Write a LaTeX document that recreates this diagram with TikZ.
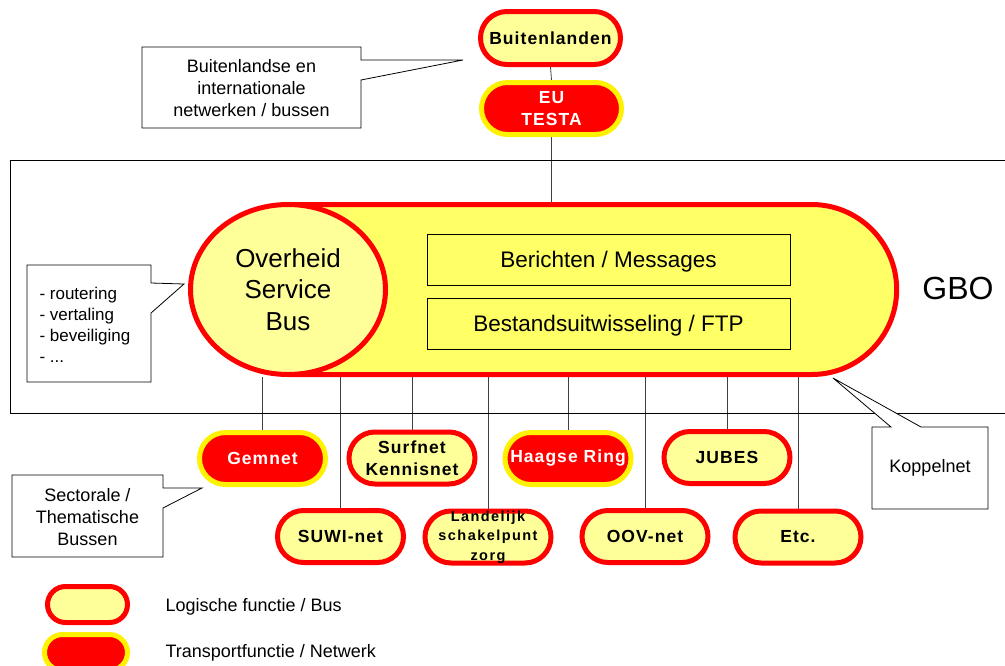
\documentclass[tikz,border=0pt]{standalone}
\usepackage{fontspec}
\setmainfont{Liberation Sans}
\newfontfamily\lblfont{Liberation Sans}[LetterSpace=6]
\newfontfamily\tightfont{Liberation Sans}[LetterSpace=10]
\usetikzlibrary{shapes.misc,shapes.geometric,backgrounds}
\definecolor{busyellow}{HTML}{FFFF66}
\definecolor{paleyellow}{HTML}{FFFF99}

\begin{document}
\begin{tikzpicture}[x=1pt, y=-1pt,
    every node/.style={font=\fontsize{18}{22}\selectfont},
    logic/.style={rounded rectangle, draw=red, fill=paleyellow, line width=5pt, minimum width=126pt, minimum height=52pt, inner sep=0pt, align=center, font=\lblfont\bfseries\fontsize{17.5}{21.5}\selectfont},
    transport/.style={logic, draw=yellow, fill=red, text=white},
    layer/.style={rectangle, draw=black, line width=0.8pt, minimum width=363pt, minimum height=51pt, text depth=0pt, font=\fontsize{22.5}{27}\selectfont},
    callout/.style={draw=black, fill=white, line width=0.8pt},
    conn/.style={draw=black!75, line width=0.8pt}
]
    \useasboundingbox (0,0) rectangle (1005,665);

    % GBO frame
    \draw[line width=0.8pt] (10,160) rectangle (1012,413);
    \node[font=\fontsize{32}{36}\selectfont] (gbo) at (958,288) {GBO};

    % Bus
    \node[rounded rectangle, rounded rectangle left arc=none, draw=red, fill=busyellow, line width=5pt, minimum width=612pt, minimum height=170pt] (bus) at (594,289.5) {};
    \node[ellipse, draw=red, fill=paleyellow, line width=5pt, minimum width=195pt, minimum height=170pt, inner sep=0pt, align=center, font=\fontsize{26}{31.5}\selectfont] (osb) at (288,289.5) {Overheid\\Service\\Bus};
    \node[layer] (msgs) at (608.5,259.5) {Berichten / Messages};
    \node[layer] (ftp) at (608.5,323.5) {Bestandsuitwisseling / FTP};

    % Top
    \node[logic, minimum width=140pt, minimum height=53pt] (buiten) at (550.5,38) {Buitenlanden};
    \node[transport, minimum width=140pt] (testa) at (551.5,108.5) {EU\\TESTA};

    % Sectoral nodes, first row
    \node[transport] (gemnet) at (262.5,458.5) {Gemnet};
    \node[logic] (surfnet) at (412,458) {Surfnet\\Kennisnet};
    \node[transport] (haagse) at (568,458.5) {Haagse Ring};
    \node[logic] (jubes) at (727,457.5) {JUBES};

    % Sectoral nodes, second row
    \node[logic] (suwi) at (340.5,536.5) {SUWI-net};
    \node[logic] (lsp) at (488,537) {};
    \node[align=center, inner sep=0pt, font=\tightfont\bfseries\fontsize{14.5}{19.5}\selectfont] (lsptext) at (lsp) {Landelijk\\schakelpunt\\zorg};
    \node[logic] (oov) at (645,536.5) {OOV-net};
    \node[logic] (etc) at (798,537) {Etc.};

    % Connections
    \begin{scope}[on background layer]
    \draw[conn] (buiten.south) -- (testa.north);
    \draw[conn] (testa.south) -- (testa.south |- bus.north);
    \foreach \n in {gemnet,surfnet,haagse,jubes,suwi,lsp,oov,etc}
        \draw[conn] (\n.north) -- (\n.north |- bus.south);
    \end{scope}

    % Callouts
    \draw[callout] (142,47) -- (361,47) -- (361,60) -- (463,60) -- (361,80) -- (361,128) -- (142,128) -- cycle;
    \node[align=center] (c1) at (251.5,88) {Buitenlandse en\\internationale\\netwerken / bussen};

    \draw[callout] (27,265) -- (151,265) -- (151,283) -- (184,284) -- (151,313) -- (151,382) -- (27,382) -- cycle;
    \node[align=left, anchor=west, font=\fontsize{17}{21}\selectfont] (c2) at (36,324.5) {- routering\\- vertaling\\- beveiliging\\- ...};

    \draw[callout] (12,475) -- (163,475) -- (163,488) -- (202,488) -- (163,508) -- (163,557) -- (12,557) -- cycle;
    \node[align=center] (c3) at (87.5,517.5) {Sectorale /\\Thematische\\Bussen};

    \draw[callout] (872,427) -- (891,427) -- (833,378) -- (921,427) -- (988,427) -- (988,509) -- (872,509) -- cycle;
    \node (c4) at (930,468) {Koppelnet};

    % Legend
    \node[logic, minimum width=80pt, minimum height=36pt] (leglogic) at (87.5,604.5) {};
    \node[anchor=west] at (162,607) {Logische functie / Bus};
    \node[transport, minimum width=83pt, minimum height=36pt] (legtrans) at (86,652.5) {};
    \node[anchor=west] at (162,653) {Transportfunctie / Netwerk};
\end{tikzpicture}
\end{document}
